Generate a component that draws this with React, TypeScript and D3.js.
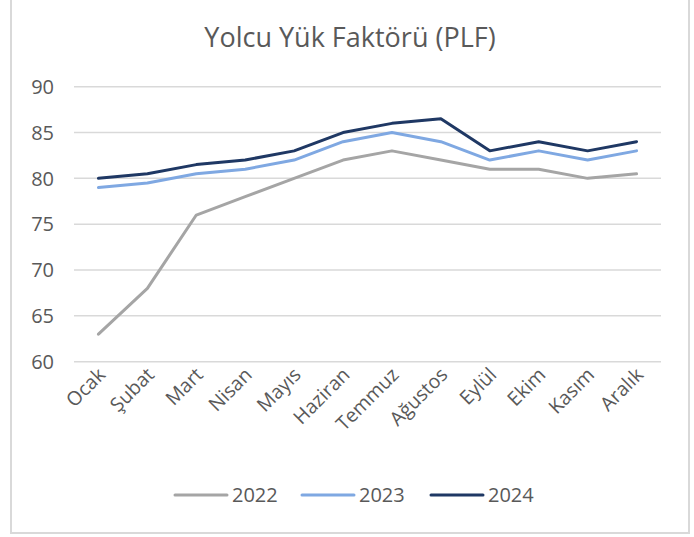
import React from "react";
import * as d3 from "d3";

// Monthly passenger load factor
const months = ["Ocak", "Şubat", "Mart", "Nisan", "Mayıs", "Haziran", "Temmuz", "Ağustos", "Eylül", "Ekim", "Kasım", "Aralık"];
const plf2022 = [63, 68, 76, 78, 80, 82, 83, 82, 81, 81, 80, 80.5];
const plf2023 = [79, 79.5, 80.5, 81, 82, 84, 85, 84, 82, 83, 82, 83];
const plf2024 = [80, 80.5, 81.5, 82, 83, 85, 86, 86.5, 83, 84, 83, 84];
const yTicks = [60, 65, 70, 75, 80, 85, 90];
const seriesNames = ["2022", "2023", "2024"];

const colors = ["#a5a5a5", "#7fa8e2", "#1f3864"];
const font = "'Open Sans', sans-serif";
const textColor = "#595959";

export default function App() {
  const W = 694;
  const H = 537;
  const plot = { left: 74, right: 661, top: 86.7, bottom: 361.7 };

  const x = d3.scalePoint<string>()
    .domain(months)
    .range([plot.left, plot.right])
    .padding(0.5);

  const y = d3.scaleLinear()
    .domain([60, 90])
    .range([plot.bottom, plot.top]);

  const line = d3.line<number>()
    .x((d, i) => x(months[i])!)
    .y(d => y(d));

  const series = [plf2022, plf2023, plf2024];

  // legend layout
  const legendX = [175, 302, 431];

  return (
    <svg width={W} height={H} style={{ position: "absolute", left: 0, top: 0, background: "#fff" }}>
      {/* chart frame */}
      <rect x={11} y={-2} width={678} height={535} fill="#fff" stroke="#d9d9d9" strokeWidth={2} />

      <text x={350} y={47} textAnchor="middle" fontFamily={font} fontSize={27} fill={textColor}>
        Yolcu Yük Faktörü (PLF)
      </text>

      {/* gridlines */}
      {yTicks.map(t => (
        <line key={t} x1={plot.left} x2={plot.right} y1={y(t)} y2={y(t)} stroke="#d9d9d9" strokeWidth={1.5} />
      ))}

      {/* y labels */}
      {yTicks.map(t => (
        <text key={"l" + t} x={54} y={y(t)} dy="0.36em" textAnchor="end" fontFamily={font} fontSize={20} fill={textColor}>
          {t}
        </text>
      ))}

      {/* x labels */}
      {months.map(m => (
        <text
          key={m}
          transform={`translate(${x(m)! + 8}, ${376}) rotate(-45)`}
          textAnchor="end"
          fontFamily={font}
          fontSize={19.5}
          fill={textColor}
        >
          {m}
        </text>
      ))}

      {/* series lines */}
      {series.map((s, i) => (
        <path key={i} d={line(s)!} fill="none" stroke={colors[i]} strokeWidth={3} strokeLinejoin="round" strokeLinecap="round" />
      ))}

      {/* legend */}
      {seriesNames.map((n, i) => (
        <g key={n}>
          <line x1={legendX[i]} x2={legendX[i] + 52} y1={495} y2={495} stroke={colors[i]} strokeWidth={3} strokeLinecap="round" />
          <text x={legendX[i] + 57} y={495} dy="0.36em" fontFamily={font} fontSize={20} fill={textColor}>
            {n}
          </text>
        </g>
      ))}
    </svg>
  );
}
